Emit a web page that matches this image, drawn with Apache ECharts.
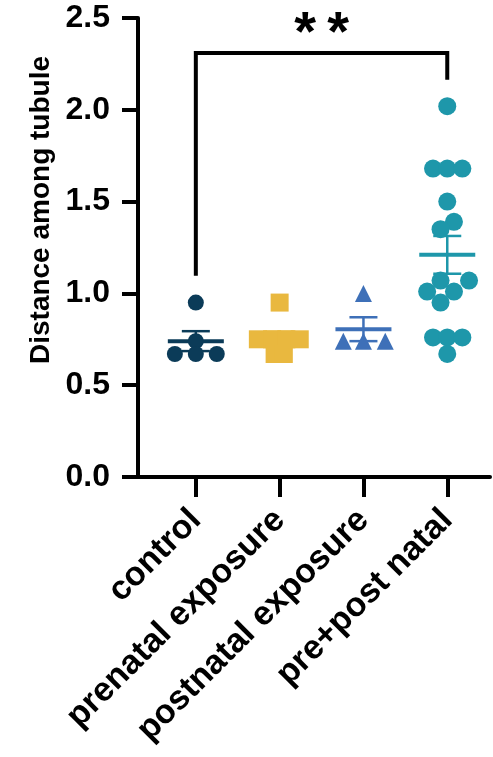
<!DOCTYPE html>
<html>
<head>
<meta charset="utf-8">
<script src="https://cdn.jsdelivr.net/npm/echarts@6/dist/echarts.min.js"></script>
<style>
  html, body { margin: 0; padding: 0; background: #fff; }
  #chart { width: 493px; height: 757px; }
</style>
</head>
<body>
<div id="chart"></div>
<script>
const categories = ['control', 'prenatal exposure', 'postnatal exposure', 'pre+post natal'];

// values, with the horizontal scatter of each point (in category units)
const controlVals = [0.95, 0.74, 0.67, 0.67, 0.67];
const controlJitter = [0, 0, -0.25, 0, 0.25];
const prenatalVals = [0.95, 0.75, 0.75, 0.75, 0.75, 0.67, 0.67];
const prenatalJitter = [0, -0.26, -0.09, 0.08, 0.24, -0.06, 0.05];
const postnatalVals = [1.0, 0.74, 0.74, 0.74];
const postnatalJitter = [0, -0.24, 0, 0.26];
const prePostVals = [2.02, 1.68, 1.68, 1.68, 1.50, 1.39, 1.35, 1.07, 1.07, 1.01, 1.01, 0.95, 0.76, 0.76, 0.76, 0.67];
const prePostJitter = [0, -0.17, 0, 0.18, 0, 0.08, -0.08, -0.08, 0.26, -0.24, 0.08, -0.08, -0.17, 0, 0.18, 0];

// significance bracket between control and pre+post natal
const bracketGroups = [0, 3];
const bracketTop = 2.31;
const bracketLegBottoms = [1.096, 2.163];
const starLevel = 2.41;
const starText = '**';

const colors = ['#0b3b58', '#e9b83f', '#3e70b8', '#1e97aa'];
const symbols = ['circle', 'rect', 'triangle', 'circle'];
const symbolSizes = [16, 18, 17, 18];

const groups = [
  [controlVals, controlJitter],
  [prenatalVals, prenatalJitter],
  [postnatalVals, postnatalJitter],
  [prePostVals, prePostJitter]
];

function meanSem(vals) {
  const n = vals.length;
  const m = vals.reduce((a, b) => a + b, 0) / n;
  const sd = Math.sqrt(vals.reduce((a, b) => a + (b - m) * (b - m), 0) / (n - 1));
  return [m, sd / Math.sqrt(n)];
}

const font = '"Liberation Sans", Arial, Helvetica, sans-serif';

const chart = echarts.init(document.getElementById('chart'), null, { renderer: 'canvas' });

const series = [];

// mean +/- SEM
groups.forEach((g, i) => {
  const [m, sem] = meanSem(g[0]);
  series.push({
    type: 'custom',
    z: 1,
    silent: true,
    data: [[i, m, m - sem, m + sem]],
    renderItem: function (params, api) {
      const c = api.coord([api.value(0), api.value(1)]);
      const lo = api.coord([api.value(0), api.value(2)]);
      const hi = api.coord([api.value(0), api.value(3)]);
      const col = colors[i];
      return {
        type: 'group',
        children: [
          { type: 'line', shape: { x1: c[0], y1: hi[1], x2: c[0], y2: lo[1] }, style: { stroke: col, lineWidth: 2.5 } },
          { type: 'line', shape: { x1: c[0] - 14, y1: hi[1], x2: c[0] + 14, y2: hi[1] }, style: { stroke: col, lineWidth: 2.5 } },
          { type: 'line', shape: { x1: c[0] - 14, y1: lo[1], x2: c[0] + 14, y2: lo[1] }, style: { stroke: col, lineWidth: 2.5 } },
          { type: 'line', shape: { x1: c[0] - 28, y1: c[1], x2: c[0] + 28, y2: c[1] }, style: { stroke: col, lineWidth: 4 } }
        ]
      };
    }
  });
});

// individual points
groups.forEach((g, i) => {
  series.push({
    type: 'scatter',
    z: 2,
    symbol: symbols[i],
    symbolSize: symbolSizes[i],
    itemStyle: { color: colors[i], opacity: 1 },
    data: g[0].map((v, k) => [i + g[1][k], v])
  });
});

// bracket and stars
series.push({
  type: 'custom',
  z: 3,
  silent: true,
  data: [[0]],
  renderItem: function (params, api) {
    const a = api.coord([bracketGroups[0], bracketLegBottoms[0]]);
    const b = api.coord([bracketGroups[0], bracketTop]);
    const c = api.coord([bracketGroups[1], bracketTop]);
    const d = api.coord([bracketGroups[1], bracketLegBottoms[1]]);
    const s = api.coord([(bracketGroups[0] + bracketGroups[1]) / 2, starLevel]);
    return {
      type: 'group',
      children: [
        { type: 'polyline', shape: { points: [a, b, c, d] }, style: { stroke: '#000', lineWidth: 4, fill: null, lineJoin: 'miter' } },
        { type: 'text', x: s[0], y: s[1], style: { text: starText.split('').join('\u2009'), font: 'bold 56px ' + font, fill: '#000', align: 'center', verticalAlign: 'middle' } }
      ]
    };
  }
});

const opt = {
  animation: false,
  backgroundColor: '#fff',
  grid: { left: 138, right: 3, top: 18, bottom: 280, containLabel: false },
  xAxis: {
    type: 'value',
    min: -0.69,
    max: 3.51,
    splitLine: { show: false },
    axisLine: { show: true, onZero: false, lineStyle: { color: '#000', width: 4 } },
    axisTick: { show: true, customValues: [0, 1, 2, 3], length: 20, lineStyle: { color: '#000', width: 4 } },
    axisLabel: {
      customValues: [0, 1, 2, 3],
      rotate: 45,
      margin: 38,
      formatter: (v) => categories[Math.round(v)],
      color: '#000',
      fontFamily: font,
      fontWeight: 'bold',
      fontSize: 34
    }
  },
  yAxis: {
    type: 'value',
    min: 0,
    max: 2.5,
    interval: 0.5,
    splitLine: { show: false },
    axisLine: { show: true, onZero: false, lineStyle: { color: '#000', width: 4 } },
    axisTick: { show: true, length: 16, lineStyle: { color: '#000', width: 4 } },
    axisLabel: {
      margin: 28,
      formatter: (v) => v.toFixed(1),
      color: '#000',
      fontFamily: font,
      fontWeight: 'bold',
      fontSize: 32
    }
  },
  graphic: [{
    type: 'text',
    x: 41,
    y: 210,
    rotation: Math.PI / 2,
    style: {
      text: 'Distance among tubule',
      font: 'bold 28px ' + font,
      fill: '#000',
      align: 'center',
      verticalAlign: 'middle'
    }
  }],
  series: series
};

chart.setOption(opt);
</script>
</body>
</html>
